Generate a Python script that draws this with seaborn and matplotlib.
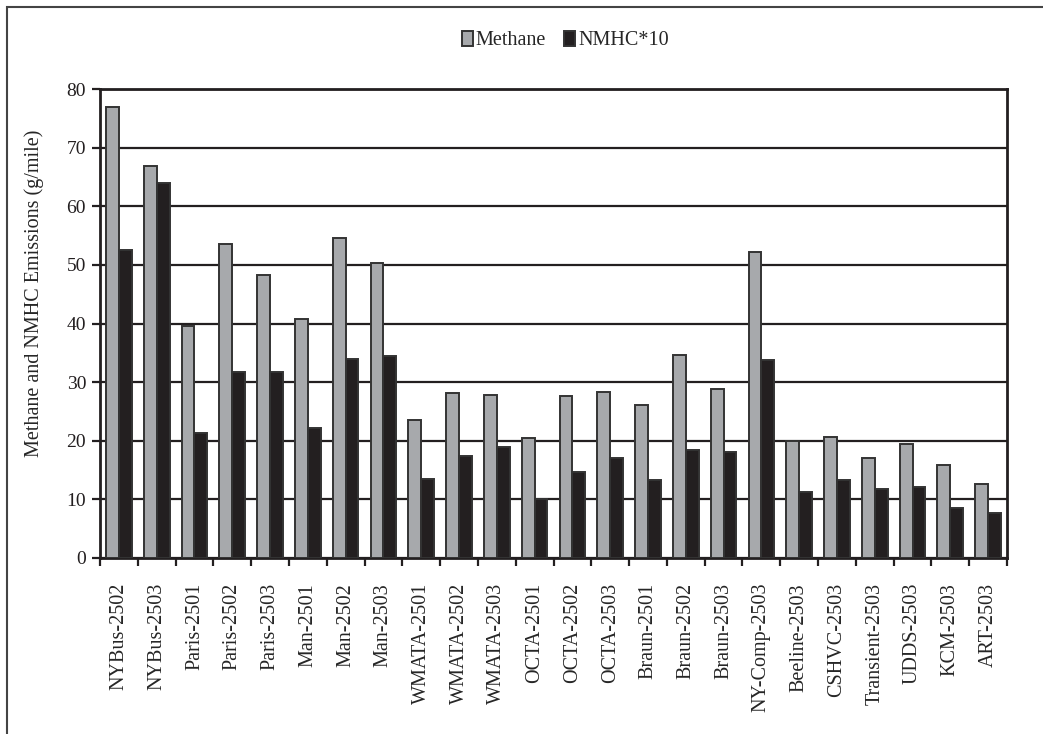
import numpy as np
import pandas as pd
import matplotlib
matplotlib.use('Agg')
import matplotlib.pyplot as plt
from matplotlib.patches import Rectangle
import seaborn as sns

BUSES = ['NYBus-2502', 'NYBus-2503', 'Paris-2501', 'Paris-2502', 'Paris-2503',
         'Man-2501', 'Man-2502', 'Man-2503', 'WMATA-2501', 'WMATA-2502',
         'WMATA-2503', 'OCTA-2501', 'OCTA-2502', 'OCTA-2503', 'Braun-2501',
         'Braun-2502', 'Braun-2503', 'NY-Comp-2503', 'Beeline-2503',
         'CSHVC-2503', 'Transient-2503', 'UDDS-2503', 'KCM-2503', 'ART-2503']

methane = [77.0, 66.8, 39.6, 53.6, 48.3, 40.8, 54.5, 50.3, 23.6, 28.1,
           27.8, 20.5, 27.6, 28.4, 26.1, 34.6, 28.9, 52.2, 20.0,
           20.6, 17.1, 19.4, 15.8, 12.6]

nmhc_x10 = [52.5, 64.0, 21.4, 31.8, 31.8, 22.1, 34.0, 34.5, 13.5, 17.4,
            18.9, 10.1, 14.6, 17.1, 13.3, 18.5, 18.0, 33.7, 11.3,
            13.3, 11.8, 12.1, 8.6, 7.6]

SERIES = ['Methane', 'NMHC*10']
COLORS = ['#A7A9AC', '#231F20']

df = pd.DataFrame({
    'bus': BUSES * 2,
    'series': [SERIES[0]] * len(BUSES) + [SERIES[1]] * len(BUSES),
    'value': methane + nmhc_x10,
})

sns.set_style('white')
plt.rcParams['font.family'] = ['Liberation Serif', 'DejaVu Serif']

fig = plt.figure(figsize=(10.43, 7.34), dpi=100)
ax = fig.add_axes([100 / 1043, 1 - 558 / 734, 907 / 1043, 469 / 734])

sns.barplot(data=df, x='bus', y='value', hue='series', palette=COLORS,
            width=0.68, gap=0, saturation=1, edgecolor='#333333', linewidth=1.4,
            ax=ax, legend=True, zorder=3)

ax.set_ylim(0, 80)
ax.set_xlim(-0.5, len(BUSES) - 0.5)
ax.set_yticks(range(0, 81, 10))
ax.grid(True, axis='y', color='#231F20', linewidth=1.6, zorder=0)
ax.set_axisbelow(True)

# ticks sit between categories
ax.set_xticks(np.arange(len(BUSES)))
ax.set_xticklabels(BUSES, rotation=90, fontsize=14.5)
ax.set_xticks(np.arange(-0.5, len(BUSES)), minor=True)
ax.tick_params(axis='x', which='major', length=0, pad=18)
ax.tick_params(axis='x', which='minor', length=6, width=1.6, direction='out',
               color='#231F20', bottom=True)
ax.tick_params(axis='y', length=6, width=1.6, direction='out', color='#231F20',
               left=True, labelsize=14, pad=4)
for lbl in ax.get_yticklabels():
    lbl.set_color('#231F20')

for sp in ax.spines.values():
    sp.set_visible(True)
    sp.set_color('#231F20')
    sp.set_linewidth(2)

ax.set_xlabel('')
ax.set_ylabel('Methane and NMHC Emissions (g/mile)', fontsize=14.5)
ax.yaxis.set_label_coords(-0.062, 0.565)

handles, labels = ax.get_legend_handles_labels()
ax.get_legend().remove()
fig.legend(handles, labels, loc='center', bbox_to_anchor=(0.542, 0.945),
           ncol=2, frameon=False, fontsize=14.5, handlelength=0.55, handleheight=0.8,
           handletextpad=0.15, columnspacing=0.9, borderaxespad=0)

# outer frame (only top and left visible in the crop)
fig.patches.append(Rectangle((7 / 1043, -0.05), 1.2, 0.05 + 727 / 734,
                             transform=fig.transFigure, fill=False,
                             edgecolor='#444444', linewidth=1.5))

plt.savefig('out.png', dpi=100)
